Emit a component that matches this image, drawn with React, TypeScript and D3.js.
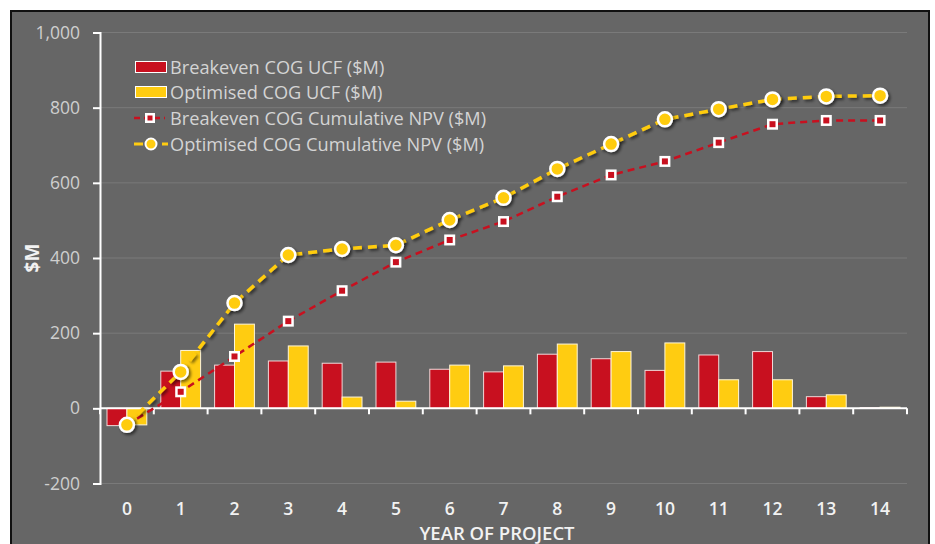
import React, { useEffect, useRef } from 'react';
import * as d3 from 'd3';

const years = ['0', '1', '2', '3', '4', '5', '6', '7', '8', '9', '10', '11', '12', '13', '14'];
const breakevenUcf = [-46, 99, 115, 126, 120, 123, 104, 97, 144, 132, 101, 142, 151, 31, 2];
const optimisedUcf = [-44, 154, 224, 166, 30, 19, 115, 113, 171, 151, 174, 76, 76, 36, 3];
const breakevenNpv = [-44, 44, 138, 232, 313, 389, 448, 497, 563, 621, 657, 707, 756, 766, 766];
const optimisedNpv = [-44, 97, 280, 408, 424, 434, 501, 560, 637, 703, 769, 796, 822, 830, 832];
const yTicks = [-200, 0, 200, 400, 600, 800, 1000];

const legendItems = [
  'Breakeven COG UCF ($M)',
  'Optimised COG UCF ($M)',
  'Breakeven COG Cumulative NPV ($M)',
  'Optimised COG Cumulative NPV ($M)',
];

const RED = '#c8101f';
const YELLOW = '#ffcc11';
const FONT = '"Open Sans", "Noto Sans", sans-serif';

const App = () => {
  const svgRef = useRef<SVGSVGElement>(null);

  useEffect(() => {
    const svg = d3.select(svgRef.current);
    svg.selectAll('*').remove();

    const left = 100;
    const right = 907;

    const x = d3.scaleBand().domain(years).range([left, right]).paddingInner(0.26).paddingOuter(0.13);
    const xc = d3.scaleBand().domain(years).range([left, right]);
    const y = d3.scaleLinear().domain([-200, 1000]).range([483.5, 32.5]);
    const inner = d3.scaleBand().domain(['b', 'o']).range([0, x.bandwidth()]);

    const defs = svg.append('defs');
    const f = defs.append('filter').attr('id', 'shadow').attr('x', '-50%').attr('y', '-50%').attr('width', '200%').attr('height', '200%');
    f.append('feDropShadow').attr('dx', 2).attr('dy', 2).attr('stdDeviation', 1.5).attr('flood-color', '#000').attr('flood-opacity', 0.55);

    // panel
    svg.append('rect').attr('x', 11).attr('y', 11).attr('width', 918).attr('height', 545)
      .attr('fill', '#666666').attr('stroke', '#111').attr('stroke-width', 2);

    // grid
    svg.append('g').selectAll('line').data(yTicks).join('line')
      .attr('x1', left).attr('x2', right)
      .attr('y1', (d) => y(d)).attr('y2', (d) => y(d))
      .attr('stroke', '#7a7a7a').attr('stroke-width', 1);

    // y axis
    const fmt = d3.format(',');
    const yAxis = svg.append('g').attr('transform', `translate(${left},0)`)
      .call(d3.axisLeft(y).tickValues(yTicks).tickSize(7).tickPadding(13)
        .tickFormat((d) => fmt(d as number).replace('\u2212', '-')));
    yAxis.select('.domain').attr('stroke', '#fff').attr('stroke-width', 2);
    yAxis.selectAll('.tick line').attr('stroke', '#fff').attr('stroke-width', 2);
    yAxis.selectAll('.tick text').attr('fill', '#cfcfcf').style('font-family', FONT).style('font-size', '17.5px');

    // bars
    const groups = svg.append('g').selectAll('g').data(years).join('g')
      .attr('transform', (d) => `translate(${x(d)},0)`);
    groups.append('rect')
      .attr('x', inner('b')!)
      .attr('width', inner.bandwidth())
      .attr('y', (_, i) => y(Math.max(0, breakevenUcf[i])))
      .attr('height', (_, i) => Math.abs(y(breakevenUcf[i]) - y(0)))
      .attr('fill', RED).attr('stroke', '#f0d8d8').attr('stroke-width', 1);
    groups.append('rect')
      .attr('x', inner('o')!)
      .attr('width', inner.bandwidth())
      .attr('y', (_, i) => y(Math.max(0, optimisedUcf[i])))
      .attr('height', (_, i) => Math.abs(y(optimisedUcf[i]) - y(0)))
      .attr('fill', YELLOW).attr('stroke', '#fff6d8').attr('stroke-width', 1);

    // x axis
    const xAxis = svg.append('g').attr('transform', `translate(0,${y(0)})`);
    xAxis.append('line').attr('x1', left).attr('x2', right).attr('stroke', '#fff').attr('stroke-width', 2);
    xAxis.selectAll('line.tk').data(years.concat(['end'])).join('line').attr('class', 'tk')
      .attr('x1', (d, i) => (i < years.length ? xc(d)! : right))
      .attr('x2', (d, i) => (i < years.length ? xc(d)! : right))
      .attr('y1', 0).attr('y2', 6).attr('stroke', '#fff').attr('stroke-width', 2);
    svg.append('g').selectAll('text').data(years).join('text')
      .attr('x', (d) => xc(d)! + xc.bandwidth() / 2)
      .attr('y', 515)
      .attr('text-anchor', 'middle')
      .attr('fill', '#f2f2f2')
      .style('font-family', FONT).style('font-size', '17.5px').style('font-weight', 600)
      .text((d) => d);

    // lines
    const lineGen = d3.line<number>().x((_, i) => xc(years[i])! + xc.bandwidth() / 2).y((d) => y(d));
    svg.append('path').datum(breakevenNpv).attr('d', lineGen).attr('fill', 'none')
      .attr('stroke', RED).attr('stroke-width', 2.5).attr('stroke-dasharray', '7,5');
    svg.append('path').datum(optimisedNpv).attr('d', lineGen).attr('fill', 'none')
      .attr('stroke', YELLOW).attr('stroke-width', 3.5).attr('stroke-dasharray', '9,6')
      .attr('filter', 'url(#shadow)');

    const cx = (i: number) => xc(years[i])! + xc.bandwidth() / 2;
    const sq = svg.append('g').selectAll('g').data(breakevenNpv).join('g')
      .attr('transform', (d, i) => `translate(${cx(i)},${y(d)})`);
    sq.append('rect').attr('x', -5.5).attr('y', -5.5).attr('width', 11).attr('height', 11).attr('fill', '#fff');
    sq.append('rect').attr('x', -3).attr('y', -3).attr('width', 6).attr('height', 6).attr('fill', RED);

    svg.append('g').selectAll('circle').data(optimisedNpv).join('circle')
      .attr('cx', (_, i) => cx(i)).attr('cy', (d) => y(d)).attr('r', 7)
      .attr('fill', YELLOW).attr('stroke', '#fff').attr('stroke-width', 2.5)
      .attr('filter', 'url(#shadow)');

    // legend
    const rows = [67, 92, 118, 144];
    const lg = svg.append('g');
    lg.append('rect').attr('x', 135.5).attr('y', rows[0] - 5.5).attr('width', 31).attr('height', 11).attr('fill', RED).attr('stroke', '#fff');
    lg.append('rect').attr('x', 135.5).attr('y', rows[1] - 5.5).attr('width', 31).attr('height', 11).attr('fill', YELLOW).attr('stroke', '#fff');
    lg.append('line').attr('x1', 134).attr('x2', 165).attr('y1', rows[2]).attr('y2', rows[2])
      .attr('stroke', RED).attr('stroke-width', 2.5).attr('stroke-dasharray', '6,4');
    lg.append('rect').attr('x', 145).attr('y', rows[2] - 5).attr('width', 10).attr('height', 10).attr('fill', '#fff');
    lg.append('rect').attr('x', 147.5).attr('y', rows[2] - 2.5).attr('width', 5).attr('height', 5).attr('fill', RED);
    lg.append('line').attr('x1', 134).attr('x2', 168).attr('y1', rows[3]).attr('y2', rows[3])
      .attr('stroke', YELLOW).attr('stroke-width', 3).attr('stroke-dasharray', '9,5');
    lg.append('circle').attr('cx', 151).attr('cy', rows[3]).attr('r', 5.5).attr('fill', YELLOW).attr('stroke', '#fff').attr('stroke-width', 2);
    lg.selectAll('text').data(legendItems).join('text')
      .attr('x', 170).attr('y', (_, i) => rows[i] + 6.5)
      .attr('fill', '#d4d4d4')
      .style('font-family', FONT).style('font-size', '18.2px')
      .text((d) => d);

    // axis titles
    svg.append('text').attr('transform', 'translate(39,258) rotate(-90)')
      .attr('text-anchor', 'middle').attr('fill', '#f2f2f2')
      .style('font-family', FONT).style('font-size', '19px').style('font-weight', 700)
      .text('$M');
    svg.append('text').attr('x', 497).attr('y', 540).attr('text-anchor', 'middle')
      .attr('fill', '#f2f2f2')
      .style('font-family', FONT).style('font-size', '18.5px').style('font-weight', 600)
      .text('YEAR OF PROJECT');
  }, []);

  return (
    <svg ref={svgRef} width={935} height={544}
      style={{ position: 'fixed', left: 0, top: 0, background: '#fff' }} />
  );
};

export default App;
